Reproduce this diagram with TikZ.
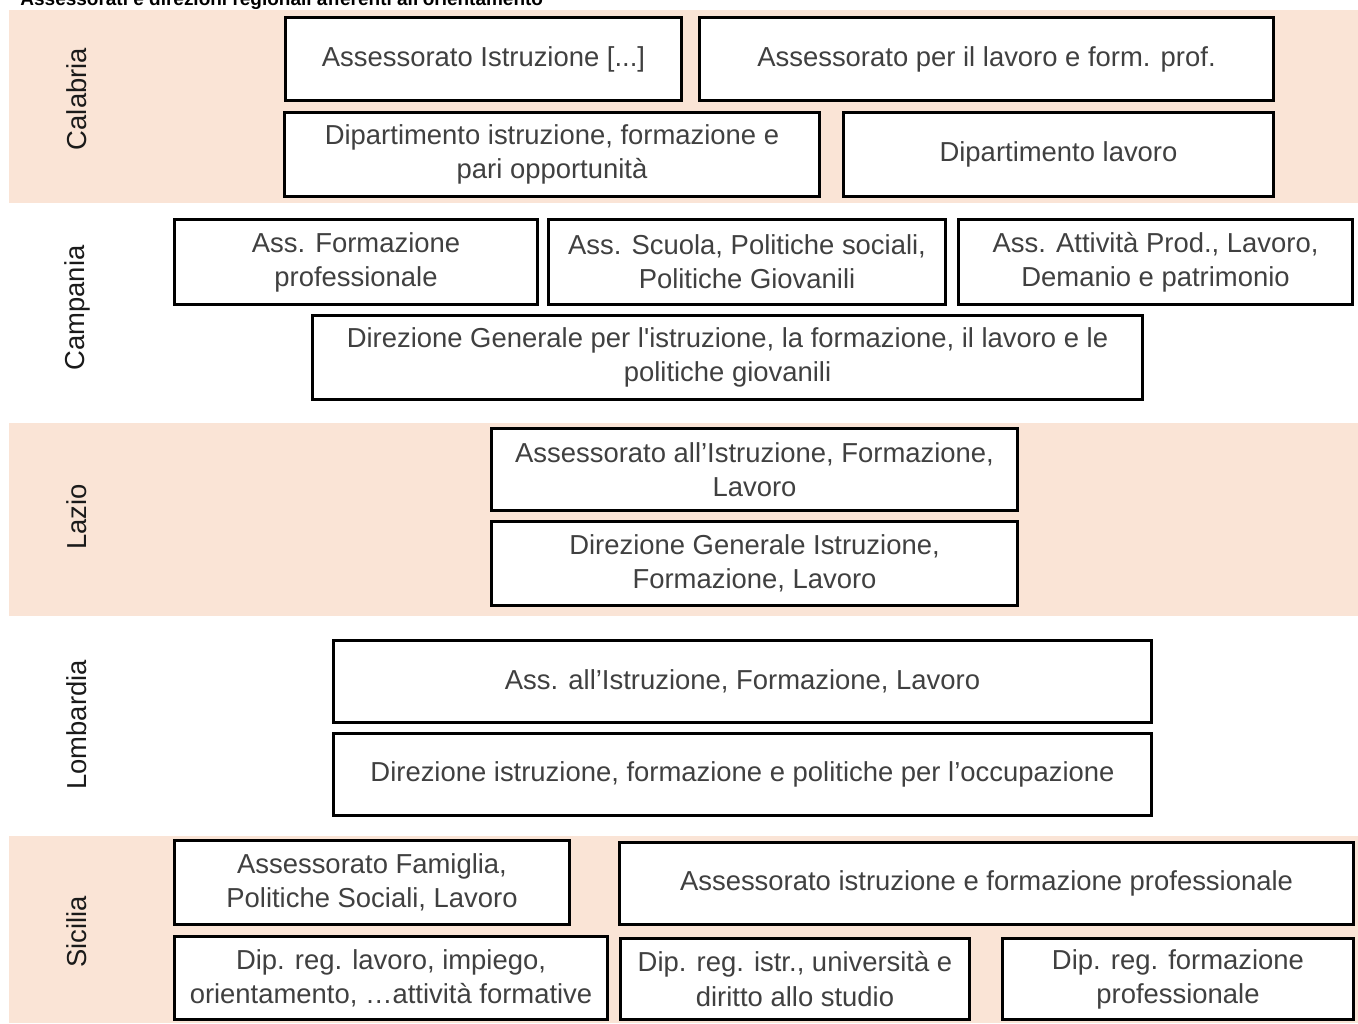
\documentclass[tikz,border=0pt]{standalone}
\usepackage{fontspec}
\setmainfont{Liberation Sans}[Ligatures=TeXOff]
\usepackage{tikz}
\usetikzlibrary{arrows.meta}
\tikzset{>=latex}
\definecolor{myrose1}{RGB}{250, 228, 214}
\definecolor{mygray1}{RGB}{64, 64, 64}
\definecolor{mygray2}{RGB}{26, 26, 26}

\begin{document}
\begin{tikzpicture}[x=0.01cm, y=-0.01cm,
  ente/.style={draw, line width=0.85pt, fill=white, inner sep=0pt, align=center,
    text=mygray1, font=\fontsize{7.8}{9.7}\selectfont},
  regione/.style={rotate=90, text=mygray2, font=\fontsize{7.8}{9.7}\selectfont}]
\useasboundingbox (0,0) rectangle (1358,1023);
\fill[myrose1] (9,10) rectangle (1358,203);
\fill[myrose1] (9,423) rectangle (1358,616);
\fill[myrose1] (9,836) rectangle (1358,1023);
\node[anchor=base west, font=\fontsize{5.4}{6}\selectfont\bfseries] (titolo) at (8,5) {Assessorati e direzioni regionali afferenti all'orientamento};

\node[regione] (calabria) at (77,99) {Calabria};
\node[ente, minimum width=3.96cm, minimum height=0.83cm] (cal1) at (483.5,59) {Assessorato Istruzione [...]};
\node[ente, minimum width=5.74cm, minimum height=0.83cm] (cal2) at (986.5,59) {Assessorato per il lavoro e form. prof.};
\node[ente, minimum width=5.35cm, minimum height=0.84cm] (cal3) at (552,154.5) {Dipartimento istruzione, formazione e\\pari opportunità};
\node[ente, minimum width=4.30cm, minimum height=0.84cm] (cal4) at (1058.5,154.5) {Dipartimento lavoro};

\node[regione] (campania) at (77,308) {Campania};
\node[ente, minimum width=3.63cm, minimum height=0.85cm] (cam1) at (356,262) {Ass. Formazione\\professionale};
\node[ente, minimum width=3.97cm, minimum height=0.85cm] (cam2) at (747,262) {Ass. Scuola, Politiche sociali,\\Politiche Giovanili};
\node[ente, minimum width=3.94cm, minimum height=0.85cm] (cam3) at (1155.5,262) {Ass. Attività Prod., Lavoro,\\Demanio e patrimonio};
\node[ente, minimum width=8.30cm, minimum height=0.84cm] (cam4) at (727.5,357.5) {Direzione Generale per l'istruzione, la formazione, il lavoro e le\\politiche giovanili};

\node[regione] (lazio) at (77,517) {Lazio};
\node[ente, minimum width=5.26cm, minimum height=0.82cm] (laz1) at (754.5,469.5) {Assessorato all’Istruzione, Formazione,\\Lavoro};
\node[ente, minimum width=5.26cm, minimum height=0.84cm] (laz2) at (754.5,563.5) {Direzione Generale Istruzione,\\Formazione, Lavoro};

\node[regione] (lombardia) at (77,725) {Lombardia};
\node[ente, minimum width=8.18cm, minimum height=0.82cm] (lom1) at (742.5,681.5) {Ass. all’Istruzione,\ Formazione, Lavoro};
\node[ente, minimum width=8.18cm, minimum height=0.82cm] (lom2) at (742.5,774.5) {Direzione istruzione, formazione e politiche per l’occupazione};

\node[regione] (sicilia) at (77,932) {Sicilia};
\node[ente, minimum width=3.95cm, minimum height=0.84cm] (sic1) at (372,882.5) {Assessorato Famiglia,\\Politiche Sociali, Lavoro};
\node[ente, minimum width=7.34cm, minimum height=0.82cm] (sic2) at (986.5,883.5) {Assessorato istruzione e formazione professionale};
\node[ente, minimum width=4.33cm, minimum height=0.83cm] (sic3) at (391,978) {Dip. reg. lavoro, impiego,\\orientamento, …attività formative};
\node[ente, minimum width=3.49cm, minimum height=0.81cm] (sic4) at (795,979) {Dip. reg. istr., università e\\diritto allo studio};
\node[ente, minimum width=3.51cm, minimum height=0.81cm] (sic5) at (1178,979) {Dip. reg. formazione\\professionale};
\end{tikzpicture}
\end{document}
